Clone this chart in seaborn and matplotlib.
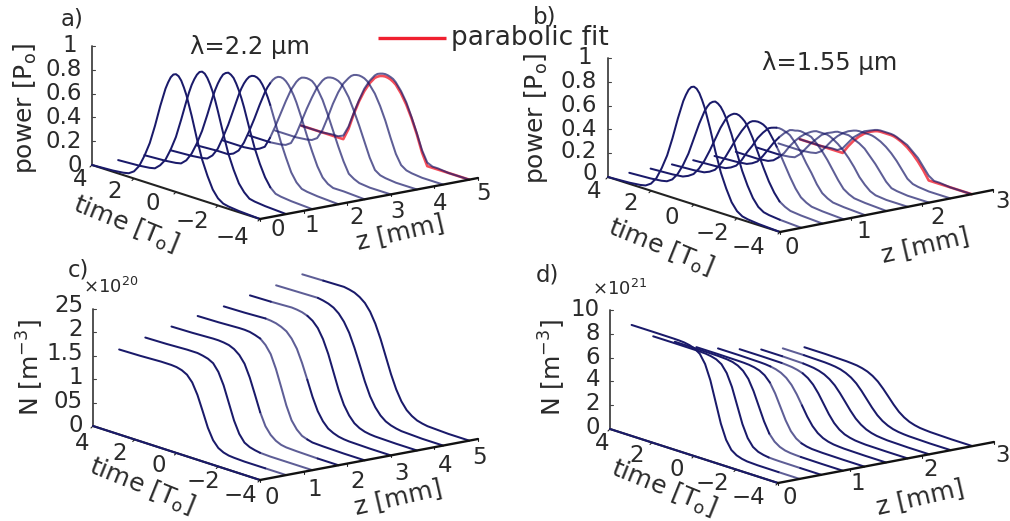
import numpy as np
import pandas as pd
import matplotlib
matplotlib.use("Agg")
import matplotlib.pyplot as plt
import seaborn as sns

# ---------- data ----------
# power panels: half profile of each pulse, |t| grid (pulses are symmetric in time)
half_t = [0, .125, .25, .375, .5, .625, .75, .875, 1, 1.25, 1.5, 1.75, 2, 2.25, 2.5, 3, 4]

z_a = [0, .6, 1.2, 1.8, 2.4, 3.0, 3.6, 4.2, 4.8]
power_a = [
    [.99, .98, .95, .90, .84, .76, .68, .59, .50, .34, .22, .12, .06, .03, .02, .01, 0],
    [.97, .96, .93, .885, .83, .76, .68, .595, .51, .35, .23, .13, .07, .03, .02, .01, 0],
    [.92, .91, .89, .85, .80, .74, .67, .59, .51, .36, .24, .14, .07, .03, .02, .01, 0],
    [.85, .845, .83, .80, .76, .71, .65, .58, .51, .37, .25, .14, .07, .03, .02, .01, 0],
    [.80, .795, .78, .755, .72, .68, .63, .57, .51, .38, .26, .15, .07, .03, .01, .01, 0],
    [.75, .747, .74, .72, .69, .65, .61, .555, .50, .38, .26, .15, .06, .03, .01, 0, 0],
    [.71, .707, .70, .685, .66, .625, .59, .54, .49, .38, .26, .14, .05, .02, .01, 0, 0],
    [.69, .687, .68, .665, .64, .61, .58, .535, .49, .38, .25, .13, .05, .02, .01, 0, 0],
    [.66, .657, .65, .64, .62, .59, .56, .52, .48, .37, .25, .12, .03, .01, .01, 0, 0],
]
fit_a = [.64, .637, .63, .617, .60, .57, .54, .50, .46, .36, .24, .10, 0, 0, 0, 0, 0]

z_b = [0, .3, .6, .9, 1.2, 1.5, 1.8, 2.1, 2.4, 2.7]
power_b = [
    [.99, .98, .95, .90, .84, .76, .68, .59, .50, .34, .22, .12, .06, .03, .02, .01, 0],
    [.83, .82, .80, .765, .72, .66, .60, .53, .46, .32, .21, .12, .06, .03, .02, .01, 0],
    [.69, .685, .67, .65, .62, .575, .53, .475, .42, .31, .21, .13, .07, .04, .02, .01, 0],
    [.59, .587, .58, .565, .54, .505, .47, .43, .39, .30, .21, .13, .07, .04, .02, .01, 0],
    [.50, .497, .49, .482, .47, .445, .42, .39, .36, .28, .21, .13, .07, .04, .02, .01, 0],
    [.44, .437, .43, .427, .42, .40, .38, .355, .33, .27, .20, .13, .07, .04, .02, .01, 0],
    [.39, .39, .39, .382, .37, .355, .34, .32, .30, .25, .19, .12, .07, .03, .01, 0, 0],
    [.35, .35, .35, .342, .33, .32, .31, .295, .28, .23, .18, .12, .06, .02, .01, 0, 0],
    [.32, .32, .32, .317, .31, .30, .29, .275, .26, .22, .17, .11, .05, .02, .01, 0, 0],
    [.29, .29, .29, .287, .28, .27, .26, .25, .24, .20, .16, .10, .04, .01, .01, 0, 0],
]
fit_b = [.28, .28, .28, .277, .27, .26, .25, .235, .22, .18, .13, .07, 0, 0, 0, 0, 0]

# carrier density panels
n_t = [4, 3, 2, 1.75, 1.5, 1.25, 1, .75, .5, .25, 0, -.25, -.5, -.75, -1, -1.25, -1.5, -1.75, -2, -3, -4]

z_c = [0, .6, 1.2, 1.8, 2.4, 3.0, 3.6, 4.2, 4.8]
dens_c = [
    [0] * 21,
    [1.53, 1.54, 1.56, 1.56, 1.56, 1.55, 1.52, 1.46, 1.33, 1.10, .79, .47, .24, .11, .05, .02, .01, .005, 0, 0, 0],
    [1.68, 1.69, 1.71, 1.71, 1.71, 1.69, 1.66, 1.60, 1.45, 1.20, .86, .52, .27, .12, .06, .03, .01, .005, 0, 0, 0],
    [1.81, 1.82, 1.84, 1.84, 1.83, 1.81, 1.76, 1.67, 1.52, 1.26, .93, .59, .33, .18, .09, .04, .02, .015, .01, 0, 0],
    [1.93, 1.94, 1.96, 1.96, 1.95, 1.92, 1.88, 1.78, 1.62, 1.34, .99, .63, .35, .19, .09, .05, .02, .015, .01, 0, 0],
    [2.03, 2.04, 2.06, 2.05, 2.03, 1.99, 1.93, 1.81, 1.63, 1.36, 1.04, .71, .44, .26, .14, .08, .04, .02, .01, 0, 0],
    [2.16, 2.17, 2.19, 2.18, 2.16, 2.12, 2.05, 1.93, 1.73, 1.45, 1.10, .75, .47, .28, .15, .08, .04, .02, .01, 0, 0],
    [2.27, 2.28, 2.29, 2.27, 2.24, 2.19, 2.10, 1.96, 1.76, 1.48, 1.16, .83, .55, .35, .21, .12, .07, .04, .02, 0, 0],
    [2.40, 2.41, 2.42, 2.40, 2.37, 2.31, 2.22, 2.07, 1.85, 1.56, 1.22, .88, .59, .37, .22, .13, .07, .04, .02, 0, 0],
]

z_d = [0, .3, .6, .9, 1.2, 1.5, 1.8, 2.1, 2.4, 2.7]
dens_d = [
    [0] * 21,
    [8.4, 8.4, 8.39, 8.38, 8.35, 8.27, 8.12, 7.81, 7.10, 5.88, 4.2, 2.52, 1.30, .59, .28, .13, .05, .03, .01, 0, 0],
    [7.1, 7.1, 7.09, 7.08, 7.06, 6.99, 6.87, 6.60, 6.00, 4.97, 3.55, 2.13, 1.10, .50, .23, .11, .04, .02, .01, 0, 0],
    [6.3, 6.3, 6.28, 6.26, 6.23, 6.16, 6.00, 5.70, 5.17, 4.28, 3.15, 2.02, 1.13, .60, .30, .14, .07, .04, .02, 0, 0],
    [5.5, 5.5, 5.48, 5.47, 5.44, 5.37, 5.24, 4.98, 4.51, 3.74, 2.75, 1.76, .99, .52, .26, .13, .06, .04, .02, 0, 0],
    [5.05, 5.05, 5.02, 5.0, 4.95, 4.86, 4.70, 4.42, 3.97, 3.32, 2.53, 1.73, 1.08, .63, .35, .19, .10, .06, .03, 0, 0],
    [4.64, 4.64, 4.62, 4.59, 4.55, 4.46, 4.32, 4.06, 3.65, 3.05, 2.32, 1.59, .99, .58, .32, .18, .09, .05, .02, 0, 0],
    [4.27, 4.27, 4.23, 4.19, 4.14, 4.04, 3.88, 3.62, 3.25, 2.73, 2.14, 1.54, 1.02, .65, .39, .23, .13, .08, .04, 0, 0],
    [4.02, 4.02, 3.98, 3.95, 3.90, 3.81, 3.65, 3.41, 3.06, 2.57, 2.01, 1.45, .96, .61, .37, .21, .12, .07, .04, 0, 0],
    [3.77, 3.77, 3.73, 3.70, 3.66, 3.57, 3.43, 3.20, 2.87, 2.41, 1.89, 1.36, .90, .57, .34, .20, .11, .07, .04, 0, 0],
]

time_ticks = [4, 2, 0, -2, -4]
time_tick_labels = ["4", "2", "0", "\u22122", "\u22124"]
power_ticks = [0, .2, .4, .6, .8, 1]
power_tick_labels = ["0", "0.2", "0.4", "0.6", "0.8", "1"]
n_ticks_c = [0, .5, 1, 1.5, 2, 2.5]
n_tick_labels_c = ["0", "05", "1", "1.5", "2", "25"]
n_ticks_d = [0, 2, 4, 6, 8, 10]
n_tick_labels_d = ["0", "2", "4", "6", "8", "10"]
z_ticks_long = [0, 1, 2, 3, 4, 5]
z_ticks_short = [0, 1, 2, 3]

# ---------- style ----------
sns.set_theme(style="white")
plt.rcParams["font.family"] = ["DejaVu Sans"]
plt.rcParams["mathtext.default"] = "regular"
plt.rcParams["mathtext.fontset"] = "dejavusans"
NAVY = "#1a1a6a"
RED = "#f02030"
INK = "#222222"
TXT = "#2a2a2a"
FS = 16.5
LAB = 18

fig = plt.figure(figsize=(10.10, 5.21), dpi=100)
ax = fig.add_axes([0, 0, 1, 1])
ax.set_xlim(0, 1010)
ax.set_ylim(521, 0)
ax.axis("off")


def make_proj(o, tv, zv, up, zmax, vmax):
    def proj(t, z, v):
        t, z, v = np.broadcast_arrays(np.asarray(t, float), np.asarray(z, float), np.asarray(v, float))
        a, b, c = (4 - t) / 8, z / zmax, v / vmax
        return o[0] + a * tv[0] + b * zv[0], o[1] + a * tv[1] + b * zv[1] + c * up
    return proj


def mirror(values):
    v = np.asarray(values, float)
    return np.r_[v[::-1], v[1:]]


def waterfall(proj, t, zs, rows, band, fit=None):
    # light/dark segmentation of each trace by its screen x (band = light range)
    if fit is not None:
        sx, sy = proj(t, zs[-1], fit)
        sns.lineplot(x=sx, y=sy, sort=False, estimator=None, color=RED, lw=1.9,
                     alpha=.8, ax=ax, legend=False)
    recs = []
    seg = 0
    for z, vals in zip(zs, rows):
        sx, sy = proj(t, z, vals)
        light = (sx >= band[0]) & (sx <= band[1])
        for i in range(len(sx)):
            if i and light[i] != light[i - 1]:
                recs.append((sx[i], sy[i], seg, bool(light[i - 1])))
                seg += 1
            recs.append((sx[i], sy[i], seg, bool(light[i])))
        seg += 1
    df = pd.DataFrame(recs, columns=["sx", "sy", "seg", "light"])
    for flag, alpha in [(False, 1.0), (True, .7)]:
        part = df[df.light == flag]
        if len(part):
            sns.lineplot(data=part, x="sx", y="sy", units="seg", estimator=None, sort=False,
                         color=NAVY, alpha=alpha, lw=1.45, ax=ax, legend=False)


def frame(proj, zmax, vmax, zticks, vticks):
    x0, y0 = proj([4, -4], 0, 0)
    x1, y1 = proj(-4, [0, zmax], 0)
    x2, y2 = proj(4, 0, [0, vmax])
    ax.plot(x0, y0, color=INK, lw=1.5, zorder=1)
    ax.plot(x1, y1, color="#111111", lw=1.7, zorder=4)
    ax.plot(x2, y2, color="#444444", lw=1.3, zorder=1)
    for v in vticks:
        x, y = proj(4, 0, v)
        ax.plot([x, x + 3], [y, y], color="#444444", lw=.8)
    for z in zticks:
        x, y = proj(-4, z, 0)
        ax.plot([x, x], [y, y + 2], color=INK, lw=.8)
    for tk in time_ticks:
        x, y = proj(tk, 0, 0)
        ax.plot([x, x - 2], [y, y + 2], color=INK, lw=.8)


def put(x, y, s, size=FS, rot=0, ha="center", va="center"):
    ax.text(x, y, s, fontsize=size, rotation=rot, ha=ha, va=va, color=TXT,
            rotation_mode="anchor")


def labels(ylab, ypos, time_pos, z_pos, zlabs):
    for (x, y), s in zip(ypos, ylab):
        put(x, y, s, ha="right")
    for (x, y), s in zip(time_pos, time_tick_labels):
        put(x, y, s)
    for (x, y), s in zip(z_pos, zlabs):
        put(x, y, s)


full_t = np.r_[np.asarray(half_t)[::-1], -np.asarray(half_t)[1:]]

# ---------- panel a ----------
pa = make_proj((92, 165), (168, 54), (218, -41), -119, 5, 1)
frame(pa, 5, 1, z_ticks_long, power_ticks)
waterfall(pa, full_t, z_a, [mirror(r) for r in power_a], (268, 2000), mirror(fit_a))
labels(power_tick_labels,
       [(82, 165), (82, 141), (82, 117), (82, 93), (82, 70), (77, 46)],
       [(80, 180), (115, 192), (153, 204), (192, 221), (232, 238)],
       [(278, 230), (312, 226), (357, 218), (398, 211), (440, 203), (483, 193)],
       [str(v) for v in z_ticks_long])
put(125, 224, r"time [T$_{o}$]", size=LAB, rot=-22)
put(400, 232, "z [mm]", size=LAB, rot=13)
put(25, 108, r"power [P$_{o}$]", size=LAB, rot=90)
put(250, 47, "\u03bb=2.2 \u00b5m", size=17.5)
put(72, 19, "a)")
ax.plot([378, 446], [38, 38], color=RED, lw=2.4, solid_capstyle="butt")
put(451, 38, "parabolic fit", size=19, ha="left")

# ---------- panel b ----------
pb = make_proj((608, 177), (172, 55), (213, -42), -119, 3, 1)
frame(pb, 3, 1, z_ticks_short, power_ticks)
waterfall(pb, full_t, z_b, [mirror(r) for r in power_b], (775, 2000), mirror(fit_b))
labels(power_tick_labels,
       [(597, 173), (597, 152), (597, 129), (597, 105), (597, 82), (592, 57)],
       [(594, 192), (631, 203), (672, 217), (712, 233), (748, 247)],
       [(792, 247), (864, 231), (938, 218), (1003, 202)],
       [str(v) for v in z_ticks_short])
put(660, 247, r"time [T$_{o}$]", size=LAB, rot=-22)
put(925, 245, "z [mm]", size=LAB, rot=13)
put(536, 118, r"power [P$_{o}$]", size=LAB, rot=90)
put(830, 63, "\u03bb=1.55 \u00b5m", size=17.5)
put(545, 17, "b)")

# ---------- panel c ----------
pc = make_proj((93, 426), (167, 54), (218, -41), -117, 5, 2.5)
frame(pc, 5, 2.5, z_ticks_long, n_ticks_c)
waterfall(pc, n_t, z_c, dens_c, (256, 303))
labels(n_tick_labels_c,
       [(83, 425), (83, 402), (83, 378), (83, 354), (83, 330), (83, 305)],
       [(82, 443), (120, 453), (159, 466), (203, 482), (240, 495)],
       [(272, 498), (315, 490), (358, 482), (402, 473), (445, 465), (479, 458)],
       [str(v) for v in z_ticks_long])
put(141, 486, r"time [T$_{o}$]", size=LAB, rot=-22)
put(398, 497, "z [mm]", size=LAB, rot=13)
put(30, 367, r"N [m$^{-3}$]", size=LAB, rot=90)
put(83, 287, r"$\times$10$^{20}$", size=13, ha="left")
put(78, 270, "c)")

# ---------- panel d ----------
pd_ = make_proj((610, 429), (168, 54), (216, -41), -119, 3, 10)
frame(pd_, 3, 10, z_ticks_short, n_ticks_d)
waterfall(pd_, n_t, z_d, dens_d, (768, 800))
labels(n_tick_labels_d,
       [(600, 427), (600, 404), (600, 380), (600, 357), (600, 333), (600, 309)],
       [(602, 444), (637, 456), (677, 470), (712, 483), (748, 497)],
       [(790, 497), (858, 483), (931, 470), (1003, 455)],
       [str(v) for v in z_ticks_short])
put(663, 488, r"time [T$_{o}$]", size=LAB, rot=-22)
put(920, 497, "z [mm]", size=LAB, rot=13)
put(552, 367, r"N [m$^{-3}$]", size=LAB, rot=90)
put(592, 289, r"$\times$10$^{21}$", size=13, ha="left")
put(547, 275, "d)")

fig.savefig("out.png", dpi=100)
